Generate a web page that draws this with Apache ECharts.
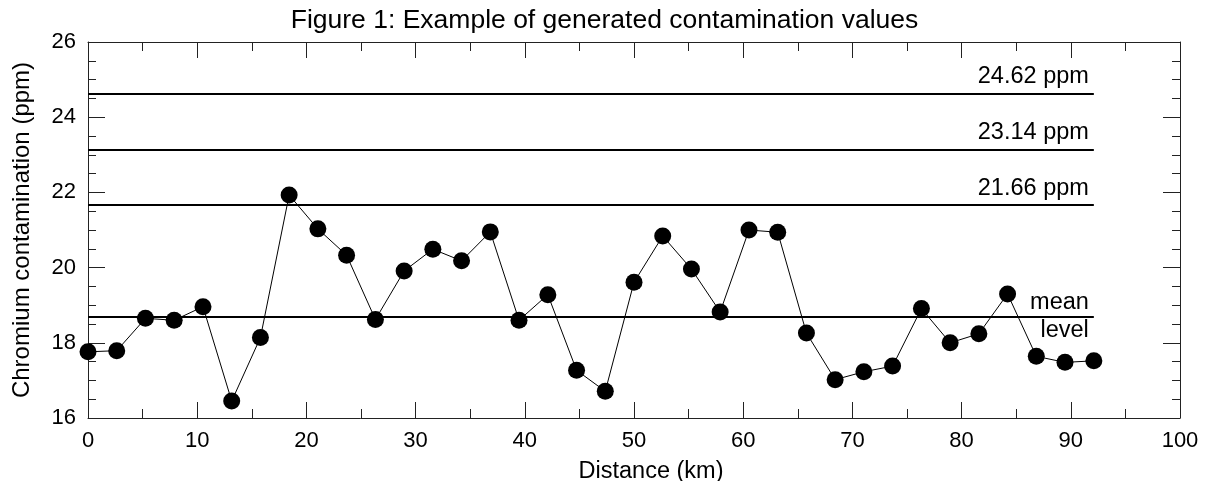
<!DOCTYPE html>
<html>
<head>
<meta charset="utf-8">
<script src="https://cdn.jsdelivr.net/npm/echarts@6/dist/echarts.min.js"></script>
<style>
html,body{margin:0;padding:0;background:#fff;}
#chart{width:1209px;height:481px;}
</style>
</head>
<body>
<div id="chart"></div>
<script>
// Data
const distanceKm = [0, 2.63, 5.26, 7.89, 10.53, 13.16, 15.79, 18.42, 21.05, 23.68, 26.32, 28.95,
  31.58, 34.21, 36.84, 39.47, 42.11, 44.74, 47.37, 50.00, 52.63, 55.26, 57.89, 60.53,
  63.16, 65.79, 68.42, 71.05, 73.68, 76.32, 78.95, 81.58, 84.21, 86.84, 89.47, 92.11];
const chromiumPpm = [17.76, 17.79, 18.65, 18.60, 18.96, 16.45, 18.14, 21.93, 21.03, 20.33, 18.62, 19.91,
  20.49, 20.18, 20.95, 18.60, 19.28, 17.27, 16.71, 19.61, 20.84, 19.96, 18.82, 21.00,
  20.94, 18.26, 17.02, 17.23, 17.38, 18.91, 18.00, 18.24, 19.30, 17.64, 17.48, 17.52];
const refLevels = [24.62, 23.14, 21.66];
const refLabels = ['24.62 ppm', '23.14 ppm', '21.66 ppm'];
const meanLevel = 18.70;
const meanLabel = 'mean\nlevel';
const lineStart = 0;
const lineEnd = 92.11;

const FONT = 'Liberation Sans, Arial, sans-serif';
const AX = '#222';

const markData = refLevels.map((v, i) => [
  {coord: [lineStart, v], label: {formatter: refLabels[i], position: 'insideEndTop'}},
  {coord: [lineEnd, v]}
]);
markData.push([
  {coord: [lineStart, meanLevel], label: {formatter: meanLabel, position: 'insideEnd', lineHeight: 28, align: 'right'}},
  {coord: [lineEnd, meanLevel]}
]);

function xAx(pos, showLabel) {
  return {
    type: 'value', position: pos, min: 0, max: 100, interval: 10,
    axisLine: {show: true, onZero: false, lineStyle: {color: AX, width: 1}},
    axisTick: {show: true, inside: true, length: 16, lineStyle: {color: AX, width: 1}},
    minorTick: {show: true, splitNumber: 2, length: 9, lineStyle: {color: AX, width: 1}},
    splitLine: {show: false},
    axisLabel: {show: showLabel, color: '#000', fontSize: 22, fontFamily: FONT, margin: 12},
    name: showLabel ? 'Distance (km)' : '',
    nameLocation: 'middle', nameGap: 42,
    nameTextStyle: {color: '#000', fontSize: 23.5, fontFamily: FONT, padding: [0, 0, 0, 34]}
  };
}
function yAx(pos, showLabel) {
  return {
    type: 'value', position: pos, min: 16, max: 26, interval: 2,
    axisLine: {show: true, onZero: false, lineStyle: {color: AX, width: 1}},
    axisTick: {show: true, inside: true, length: 17, lineStyle: {color: AX, width: 1}},
    minorTick: {show: true, splitNumber: 4, length: 8, lineStyle: {color: AX, width: 1}},
    splitLine: {show: false},
    axisLabel: {show: showLabel, color: '#000', fontSize: 22, fontFamily: FONT, margin: 12},
    name: showLabel ? 'Chromium contamination (ppm)' : '',
    nameLocation: 'middle', nameGap: 54,
    nameTextStyle: {color: '#000', fontSize: 24, fontFamily: FONT}
  };
}

const chart = echarts.init(document.getElementById('chart'), null, {renderer: 'canvas'});
chart.setOption({
  animation: false,
  backgroundColor: '#fff',
  title: {
    text: 'Figure 1: Example of generated contamination values',
    left: 'center', top: 2,
    textStyle: {color: '#000', fontSize: 26.5, fontWeight: 'normal', fontFamily: FONT}
  },
  grid: {left: 88, right: 29, top: 42, bottom: 63, containLabel: false, outerBoundsMode: 'none'},
  xAxis: [xAx('bottom', true), xAx('top', false)],
  yAxis: [yAx('left', true), yAx('right', false)],
  series: [{
    type: 'line',
    data: distanceKm.map((x, i) => [x, chromiumPpm[i]]),
    symbol: 'circle', symbolSize: 17,
    itemStyle: {color: '#000'},
    lineStyle: {color: '#000', width: 1},
    z: 3,
    markLine: {
      silent: true, symbol: 'none',
      lineStyle: {color: '#000', width: 2, type: 'solid'},
      label: {show: true, color: '#000', fontSize: 23.5, fontFamily: FONT, distance: 5},
      data: markData
    }
  }]
});
</script>
</body>
</html>
